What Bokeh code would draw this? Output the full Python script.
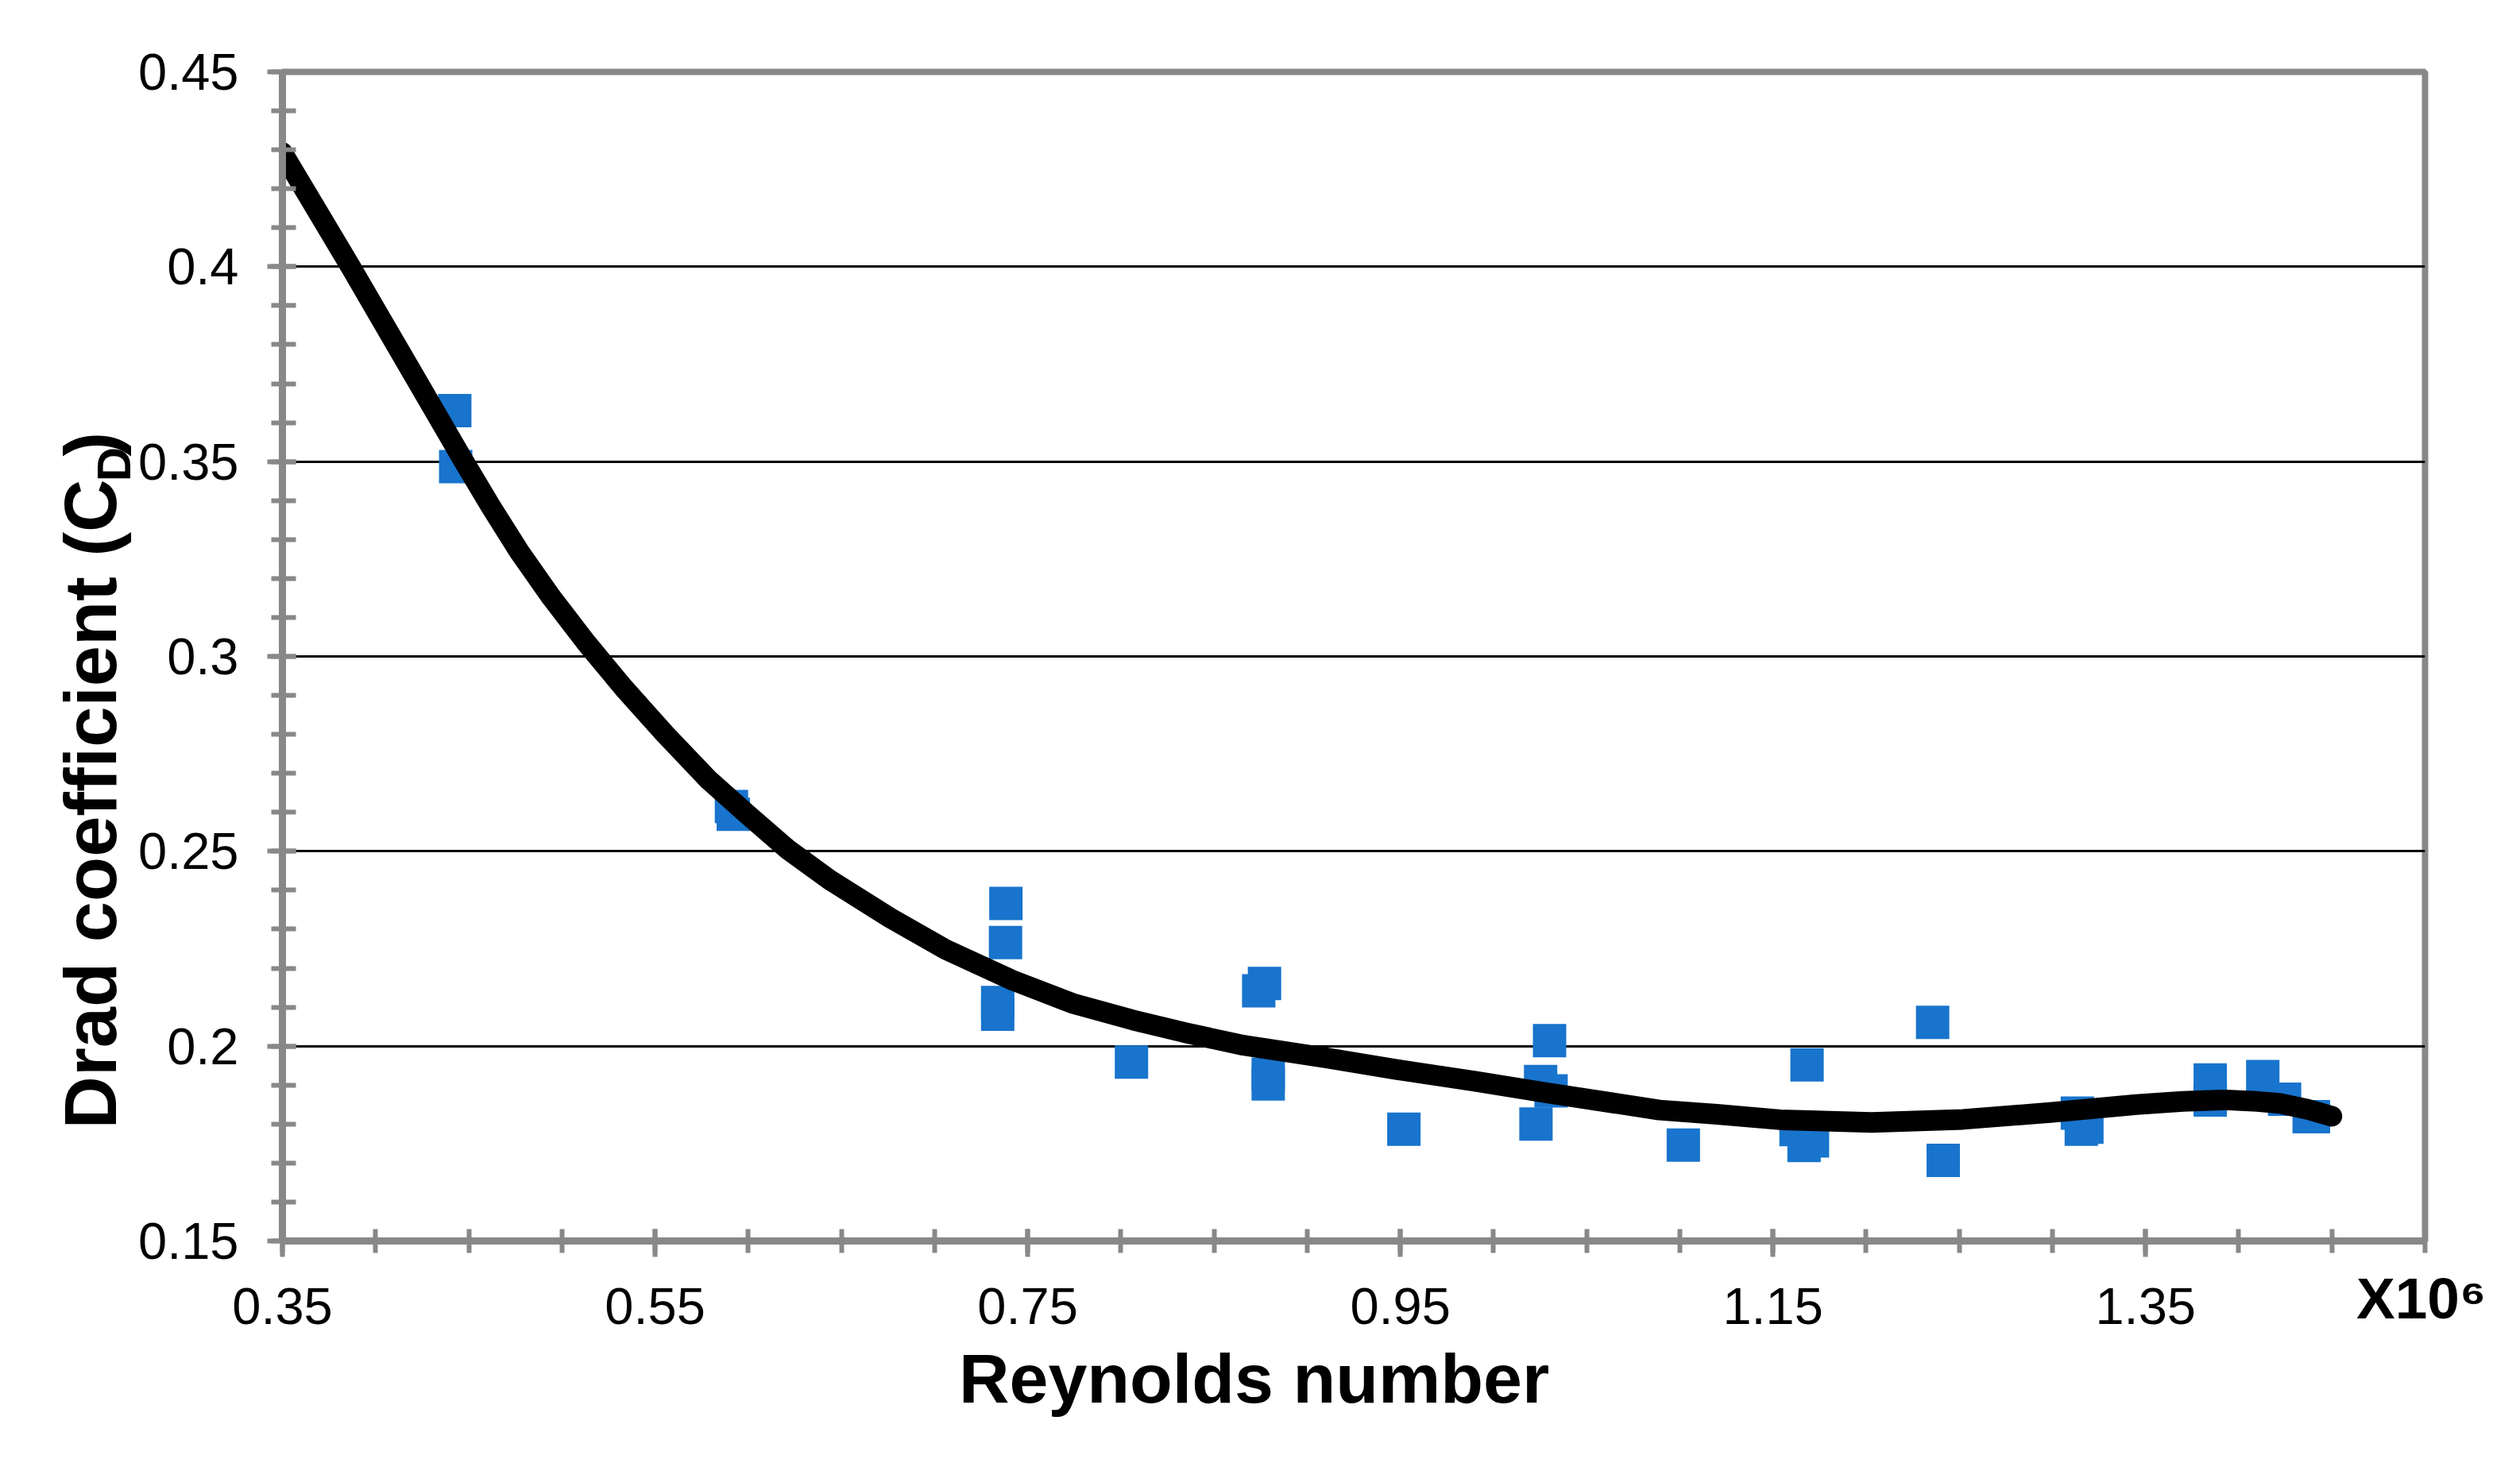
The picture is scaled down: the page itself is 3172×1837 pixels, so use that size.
import json
from bokeh.plotting import figure
from bokeh.models import (FixedTicker, LinearAxis, CustomJSTickFormatter,
                          PrintfTickFormatter)
from bokeh.embed import file_html
from bokeh.resources import INLINE

# Measured data points (Reynolds number x1e6, drag coefficient)
re_data = [0.4425, 0.4430, 0.5910, 0.5920, 0.7383, 0.7381, 0.7339, 0.7339,
           0.8057, 0.8771, 0.8740, 0.8791, 0.8791, 0.9519, 1.0301, 1.0253,
           1.0309, 1.0228, 1.1019, 1.1683, 1.1624, 1.1667, 1.1712, 1.2357,
           1.2414, 1.3134, 1.3155, 1.3185, 1.3847, 1.3847, 1.4129, 1.4246,
           1.4378, 1.4401]
cd_data = [0.3631, 0.3487, 0.2615, 0.2595, 0.2366, 0.2266, 0.2112, 0.2082,
           0.1959, 0.2161, 0.2142, 0.1928, 0.1903, 0.1787, 0.2014, 0.1909,
           0.1885, 0.1800, 0.1746, 0.1952, 0.1786, 0.1745, 0.1757, 0.2061,
           0.1707, 0.1828, 0.1787, 0.1792, 0.1913, 0.1862, 0.1922, 0.1864,
           0.1819, 0.1819]

# Trend line
trend_re = [0.3500, 0.3866, 0.4471, 0.4617, 0.4771, 0.4943, 0.5131, 0.5334,
            0.5553, 0.5786, 0.6000, 0.6212, 0.6437, 0.6762, 0.7060, 0.7414,
            0.7739, 0.8065, 0.8340, 0.8660, 0.9100, 0.9480, 0.9900, 1.0290,
            1.0890, 1.1200, 1.1540, 1.2030, 1.2520, 1.3000, 1.3450, 1.3700,
            1.3930, 1.4100, 1.4220, 1.4370, 1.4500]
trend_cd = [0.4293, 0.4000, 0.3503, 0.3386, 0.3269, 0.3152, 0.3035, 0.2918,
            0.2801, 0.2684, 0.2593, 0.2505, 0.2427, 0.2329, 0.2248, 0.2170,
            0.2110, 0.2067, 0.2035, 0.2002, 0.1970, 0.1940, 0.1910, 0.1880,
            0.1836, 0.1825, 0.1811, 0.1804, 0.1812, 0.1830, 0.1850, 0.1858,
            0.1862, 0.1858, 0.1853, 0.1838, 0.1820]

x_major = [0.35, 0.55, 0.75, 0.95, 1.15, 1.35]
x_minor = [0.35, 0.40, 0.45, 0.50, 0.55, 0.60, 0.65, 0.70, 0.75, 0.80, 0.85,
           0.90, 0.95, 1.00, 1.05, 1.10, 1.15, 1.20, 1.25, 1.30, 1.35, 1.40,
           1.45, 1.50]
y_major = [0.15, 0.20, 0.25, 0.30, 0.35, 0.40, 0.45]
y_minor = [0.15, 0.16, 0.17, 0.18, 0.19, 0.20, 0.21, 0.22, 0.23, 0.24, 0.25,
           0.26, 0.27, 0.28, 0.29, 0.30, 0.31, 0.32, 0.33, 0.34, 0.35, 0.36,
           0.37, 0.38, 0.39, 0.40, 0.41, 0.42, 0.43, 0.44, 0.45]
y_grid = [0.20, 0.25, 0.30, 0.35, 0.40]

x_title = "Reynolds number"
y_title_main = "Drad coefficient (C"
y_title_sub = "D"
y_title_end = ")"
scale_text = "X10\u2076"

FONT = "Liberation Sans"
GRAY = "#888888"

p = figure(width=3156, height=1821, x_range=(0.35, 1.5), y_range=(0.15, 0.45),
           output_backend="svg", toolbar_location=None,
           min_border_left=355, min_border_right=104,
           min_border_top=90, min_border_bottom=259)
p.background_fill_color = "white"
p.border_fill_color = "white"
p.outline_line_color = GRAY
p.outline_line_width = 8

p.xgrid.visible = False
p.ygrid.ticker = FixedTicker(ticks=y_grid)
p.ygrid.grid_line_color = "black"
p.ygrid.grid_line_width = 3

for ax in (p.xaxis[0], p.yaxis[0]):
    ax.axis_line_color = GRAY
    ax.axis_line_width = 9
    ax.major_tick_line_color = GRAY
    ax.minor_tick_line_color = GRAY
    ax.major_tick_line_width = 6
    ax.minor_tick_line_width = 6
    ax.major_label_text_font = FONT
    ax.major_label_text_font_size = "65px"
    ax.major_label_text_color = "black"

xa = p.xaxis[0]
xa.ticker = FixedTicker(ticks=x_major, minor_ticks=x_minor)
xa.formatter = PrintfTickFormatter(format="%.2f")
xa.major_tick_out = 20
xa.major_tick_in = 15
xa.minor_tick_out = 15
xa.minor_tick_in = 15
xa.major_label_standoff = 39

ya = p.yaxis[0]
ya.ticker = FixedTicker(ticks=y_major, minor_ticks=y_minor)
ya.formatter = CustomJSTickFormatter(code="return String(parseFloat(tick.toFixed(2)));")
ya.major_tick_out = 19
ya.major_tick_in = 17
ya.minor_tick_out = 14
ya.minor_tick_in = 17
ya.major_label_standoff = 36

p.scatter(re_data, cd_data, marker="square", size=42,
          fill_color="#1874CC", line_color=None)
p.line(trend_re, trend_cd, line_width=26, line_color="black",
       line_cap="round", line_join="round")


def text_axis(side, ticks, texts, size, standoff, orientation="horizontal"):
    # an extra axis without line or ticks that only carries title text
    mapping = json.dumps({str(i): t for i, t in enumerate(texts)})
    ticks_js = json.dumps(ticks)
    code = ("const m = %s; const t = %s; let best = 0;"
            "for (let i = 0; i < t.length; i++) {"
            " if (Math.abs(t[i] - tick) < Math.abs(t[best] - tick)) best = i; }"
            "return m[String(best)];") % (mapping, ticks_js)
    ax = LinearAxis(ticker=FixedTicker(ticks=ticks, minor_ticks=[]),
                    formatter=CustomJSTickFormatter(code=code))
    ax.axis_line_color = None
    ax.major_tick_line_color = None
    ax.minor_tick_line_color = None
    ax.major_tick_in = 0
    ax.major_tick_out = 0
    ax.minor_tick_in = 0
    ax.minor_tick_out = 0
    ax.major_label_text_font = FONT
    ax.major_label_text_font_size = size
    ax.major_label_text_font_style = "bold"
    ax.major_label_text_color = "black"
    ax.major_label_standoff = standoff
    ax.major_label_orientation = orientation
    p.add_layout(ax, side)


# x title and scale factor, below the frame
text_axis("below", [0.8715], [x_title], "88px", 16)
text_axis("below", [1.4980], [scale_text], "73px", -194)
# y title, rotated, left of the frame
text_axis("left", [0.2621, 0.3545], [y_title_main, y_title_end],
          "92px", 5, "parallel")
text_axis("left", [0.3493], [y_title_sub], "60px", -117, "parallel")

open("out.html", "w").write(file_html(p, INLINE))
